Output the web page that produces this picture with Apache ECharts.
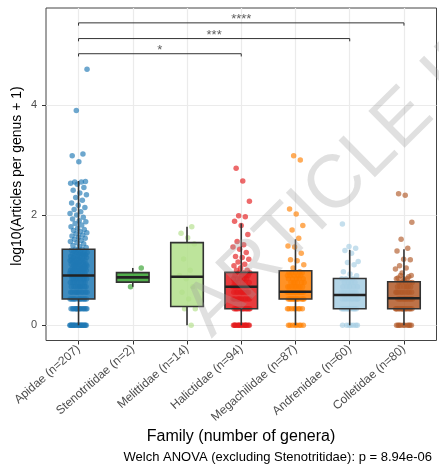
<!DOCTYPE html>
<html><head><meta charset="utf-8">
<script src="https://cdn.jsdelivr.net/npm/echarts/dist/echarts.min.js"></script>
<style>html,body{margin:0;padding:0;background:#fff}#c{width:439px;height:469px}</style>
</head><body><div id="c"></div>
<script>
const FONT = '"Liberation Sans", Arial, Helvetica, sans-serif';
const families = ['Apidae (n=207)','Stenotritidae (n=2)','Melittidae (n=14)','Halictidae (n=94)','Megachilidae (n=87)','Andrenidae (n=60)','Colletidae (n=80)'];
const colors = ['#1F78B4','#33A02C','#B2DF8A','#E31A1C','#FF7F00','#A6CEE3','#B15928'];
const yTicks = [0, 2, 4];
const xTicks = [0, 1, 2, 3, 4, 5, 6];

// log10(articles + 1) per genus
const apidae = [0,0,0,0,0,0,0,0,0,0,0,0,0,0,0,0,0,0,0,0,
 0.301,0.301,0.301,0.301,0.301,0.301,0.301,0.301,0.301,0.301,0.301,0.301,0.301,0.301,
 0.477,0.477,0.477,0.477,0.477,0.477,0.477,0.477,0.477,0.477,0.477,0.477,
 0.602,0.602,0.602,0.602,0.602,0.602,0.602,0.602,0.602,0.602,
 0.699,0.699,0.699,0.699,0.699,0.699,0.699,0.699,0.699,
 0.778,0.778,0.778,0.778,0.778,0.778,0.778,0.778,
 0.845,0.845,0.845,0.845,0.845,0.845,0.845,0.845,
 0.903,0.903,0.903,0.903,0.903,0.903,0.903,0.903,
 0.954,0.954,0.954,0.954,0.954,0.954,0.954,
 1.0,1.0,1.0,1.0,1.0,1.0,1.0,
 1.041,1.041,1.041,1.041,1.041,1.041,
 1.079,1.079,1.079,1.079,1.079,
 1.114,1.114,1.114,1.114,1.114,
 1.146,1.146,1.146,1.146,1.176,1.176,1.176,1.176,1.204,1.204,1.204,1.204,
 1.23,1.23,1.23,1.255,1.255,1.255,1.279,1.279,1.279,1.301,1.301,1.301,1.322,1.322,1.322,
 1.342,1.342,1.362,1.362,1.38,1.38,
 1.41,1.43,1.45,1.48,1.5,1.52,1.54,1.56,1.58,1.6,1.62,1.64,1.66,1.68,1.7,1.72,1.74,1.76,
 1.79,1.82,1.85,1.88,1.9,1.93,1.96,2.0,2.03,2.06,2.1,2.14,2.18,2.22,2.27,2.32,2.37,2.4,
 2.45,2.5,2.56,2.58,2.6,2.6,2.61,2.97,3.08,3.11,3.9,4.65];
const stenotritidae = [0.699, 1.041];
const melittidae = [0,0.301,0.301,0.477,0.602,0.699,0.845,0.903,1.0,1.204,1.477,1.59,1.67,1.79];
const halictidae = [0,0,0,0,0,0,0,0,0,0,0,0,0,0,0,0,
 0.301,0.301,0.301,0.301,0.301,0.301,0.301,0.301,0.301,0.301,0.301,0.301,
 0.477,0.477,0.477,0.477,0.477,0.477,0.477,0.477,0.477,0.477,
 0.602,0.602,0.602,0.602,0.602,0.602,0.602,0.602,0.602,
 0.699,0.699,0.699,0.699,0.699,0.699,0.699,0.699,
 0.778,0.778,0.778,0.778,0.778,0.778,0.845,0.845,0.845,0.845,0.845,
 0.903,0.903,0.903,0.903,0.954,0.954,0.954,
 1.0,1.0,1.04,1.08,1.11,1.15,1.2,1.23,1.25,1.32,1.38,1.42,1.46,1.52,1.65,1.81,1.89,1.97,1.99,2.25,2.62,2.85];
const megachilidae = [0,0,0,0,0,0,0,0,0.301,0.301,0.301,0.301,0.301,0.301,0.301,0.301,
 0.477,0.477,0.477,0.477,0.477,0.477,0.477,0.477,0.477,0.477,0.477,0.477,
 0.602,0.602,0.602,0.602,0.602,0.602,0.602,0.602,0.602,0.602,0.602,0.602,0.602,0.602,
 0.699,0.699,0.699,0.699,0.699,0.699,0.699,0.699,
 0.778,0.778,0.778,0.778,0.778,0.778,0.845,0.845,0.845,0.845,0.845,
 0.903,0.903,0.903,0.903,0.903,0.954,0.954,0.954,0.954,
 0.97,1.04,1.1,1.17,1.19,1.31,1.42,1.44,1.58,1.73,1.81,2.02,2.11,3.0,3.08];
const andrenidae = [0,0,0,0,0,0,0,0.301,0.301,0.301,0.301,0.301,0.301,0.301,0.301,0.301,0.301,0.301,
 0.477,0.477,0.477,0.477,0.477,0.477,0.477,0.477,0.477,
 0.602,0.602,0.602,0.602,0.602,0.602,0.602,0.602,
 0.699,0.699,0.699,0.699,0.699,0.778,0.778,0.778,0.778,0.845,0.845,0.845,
 0.9,0.93,0.97,1.1,1.14,1.16,1.31,1.36,1.4,1.43,1.84];
const colletidae = [0,0,0,0,0,0,0,0,0,0,
 0.301,0.301,0.301,0.301,0.301,0.301,0.301,0.301,0.301,0.301,0.301,0.301,0.301,0.301,0.301,
 0.477,0.477,0.477,0.477,0.477,0.477,0.477,0.477,0.477,0.477,0.477,0.477,
 0.602,0.602,0.602,0.602,0.602,0.602,0.602,0.602,0.602,
 0.699,0.699,0.699,0.699,0.699,0.699,0.778,0.778,0.778,0.778,0.778,
 0.845,0.845,0.845,0.903,0.903,
 0.82,0.86,0.88,0.95,1.02,1.04,1.08,1.19,1.2,1.35,1.4,1.56,1.87,2.36,2.39];
const groups = [apidae, stenotritidae, melittidae, halictidae, megachilidae, andrenidae, colletidae];

// [lower whisker, Q1, median, Q3, upper whisker]
const boxStats = [
 [0, 0.477, 0.903, 1.38, 2.62],
 [0.699, 0.784, 0.87, 0.956, 1.041],
 [0, 0.34, 0.88, 1.5, 1.79],
 [0, 0.301, 0.699, 0.96, 1.85],
 [0, 0.477, 0.61, 0.99, 1.56],
 [0, 0.301, 0.55, 0.85, 1.37],
 [0, 0.301, 0.49, 0.79, 1.38]
];
// [from group, to group, height, label]
const brackets = [[0, 3, 4.93, '*'], [0, 5, 5.205, '***'], [0, 6, 5.49, '****']];

const chart = echarts.init(document.getElementById('c'), null, {renderer: 'canvas'});
function jit(k, g) { return ((((k * 0.6180339887) + g * 0.37) % 1) - 0.5) * 0.32; }

const series = [];
groups.forEach((vals, g) => {
  series.push({
    type: 'scatter', xAxisIndex: 0, yAxisIndex: 0, silent: true,
    symbolSize: 5.5, z: 2,
    itemStyle: {color: colors[g], opacity: 0.65},
    data: vals.map((v, k) => [g + jit(k, g), v])
  });
});
series.push({
  type: 'custom', z: 3, silent: true,
  encode: {x: 0, y: [1, 2, 3, 4, 5]},
  data: boxStats.map((s, i) => [i].concat(s)),
  renderItem: function (params, api) {
    const i = api.value(0);
    const lo = api.coord([i, api.value(1)]), q1 = api.coord([i, api.value(2)]),
          md = api.coord([i, api.value(3)]), q3 = api.coord([i, api.value(4)]),
          hi = api.coord([i, api.value(5)]);
    const w = api.size([0.6, 0])[0];
    const x = lo[0];
    return {type: 'group', children: [
      {type: 'line', shape: {x1: x, y1: hi[1], x2: x, y2: q3[1]}, style: {stroke: '#333', lineWidth: 1.6}},
      {type: 'line', shape: {x1: x, y1: q1[1], x2: x, y2: lo[1]}, style: {stroke: '#333', lineWidth: 1.6}},
      {type: 'rect', shape: {x: x - w / 2, y: q3[1], width: w, height: q1[1] - q3[1]},
        style: {fill: echarts.color.modifyAlpha(colors[i], 0.85), stroke: '#333', lineWidth: 1.6}},
      {type: 'line', shape: {x1: x - w / 2, y1: md[1], x2: x + w / 2, y2: md[1]}, style: {stroke: '#222', lineWidth: 2.6}}
    ]};
  }
});
brackets.forEach(b => {
  series.push({
    type: 'line', silent: true, symbol: 'none', showSymbol: false, z: 4,
    lineStyle: {color: '#333', width: 1},
    data: [[b[0], b[2] - 0.05], [b[0], b[2]], [b[1], b[2]], [b[1], b[2] - 0.05]]
  });
});
series.push({
  type: 'scatter', silent: true, symbolSize: 0, z: 4,
  data: brackets.map(b => [(b[0] + b[1]) / 2, b[2], b[3]]),
  label: {show: true, position: 'top', distance: -3, formatter: p => p.data[2],
    fontSize: 13, color: '#333', fontFamily: FONT}
});

chart.setOption({
  animation: false,
  backgroundColor: '#fff',
  grid: {left: 46, right: 2.5, top: 8, bottom: 128.5, show: true, borderColor: '#444', borderWidth: 1},
  xAxis: {
    type: 'value', min: -0.6, max: 6.6,
    axisLine: {show: false, onZero: false},
    axisTick: {show: true, customValues: xTicks, length: 4, lineStyle: {color: '#333'}},
    axisLabel: {customValues: xTicks, formatter: v => families[Math.round(v)], rotate: 41, margin: 7,
      fontSize: 12, color: '#4d4d4d', fontFamily: FONT},
    splitLine: {show: true, lineStyle: {color: '#ebebeb', width: 1.2}}
  },
  yAxis: {
    type: 'value', min: -0.276, max: 5.76,
    axisLine: {show: false, onZero: false},
    axisTick: {show: true, customValues: yTicks, length: 4, lineStyle: {color: '#333'}},
    axisLabel: {customValues: yTicks, margin: 9, fontSize: 11, color: '#4d4d4d', fontFamily: FONT},
    splitLine: {show: true, lineStyle: {color: '#ebebeb', width: 1.2}}
  },
  graphic: [
    {type: 'text', x: 17, y: 176, rotation: Math.PI / 2, z: 10,
      style: {text: 'log10(Articles per genus + 1)', align: 'center', verticalAlign: 'middle',
        font: '14px ' + FONT, fill: '#000'}},
    {type: 'text', x: 241, y: 437, z: 10,
      style: {text: 'Family (number of genera)', align: 'center', verticalAlign: 'middle',
        font: '16px ' + FONT, fill: '#000'}},
    {type: 'text', x: 432, y: 457, z: 10,
      style: {text: 'Welch ANOVA (excluding Stenotritidae): p = 8.94e-06', align: 'right', verticalAlign: 'middle',
        font: '13px ' + FONT, fill: '#000'}},
    {type: 'text', x: 197, y: 324, rotation: 0.78, z: 100, silent: true,
      style: {text: 'ARTICLE IN PRESS', align: 'left', verticalAlign: 'middle',
        font: '75px ' + FONT, fill: 'rgba(160,160,160,0.32)'}}
  ],
  series: series
});
</script></body></html>
